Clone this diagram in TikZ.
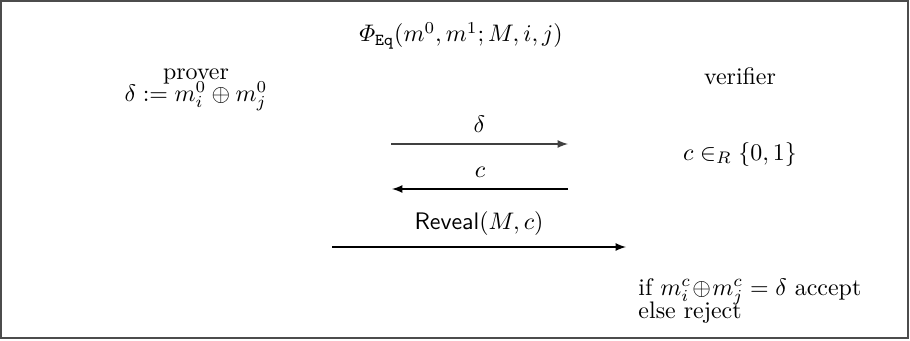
\documentclass[tikz,border=0pt]{standalone}
\usepackage{amsmath,amssymb}
\begin{document}
\begin{tikzpicture}[x=0.0147cm, y=-0.0147cm, >=latex,
      msg/.style={->, line width=0.5pt},
      lbl/.style={above, inner sep=4.5pt},
      txt/.style={inner sep=0pt, anchor=base}]
    \useasboundingbox (0,0) rectangle (910,340);
    \draw[line width=0.6pt, black!70] (1,1) rectangle (908,338);
    \node[txt] (title) at (461,42) {$\varPhi_{\mathtt{Eq}}(m^0,m^1;M,i,j)$};
    \node[txt] (prv) at (196,79) {prover};
    \node[txt] (dlt) at (196,101) {$\delta:=m_i^0\oplus m_j^0$};
    \node[txt] (vrf) at (740,84) {verifier};
    \node[txt] (chl) at (740,160) {$c\in_R\{0,1\}$};
    \node[txt, anchor=base west] (chk) at (638,295) {if $m_i^c\!\oplus\! m_j^c=\delta$ accept};
    \node[txt, anchor=base west] (rej) at (638,318) {else reject};
    \coordinate (s1) at (391,144);
    \coordinate (e1) at (568,144);
    \coordinate (s2) at (568,189);
    \coordinate (e2) at (392,189);
    \coordinate (s3) at (332,247);
    \coordinate (e3) at (626,247);
    \draw[msg, black!75] (s1) -- node[lbl, black] (m1) {$\delta$} (e1);
    \draw[msg] (s2) -- node[lbl] (m2) {$c$} (e2);
    \draw[msg] (s3) -- node[lbl] (m3) {$\textsf{Reveal}(M,c)$} (e3);
  \end{tikzpicture}
\end{document}
